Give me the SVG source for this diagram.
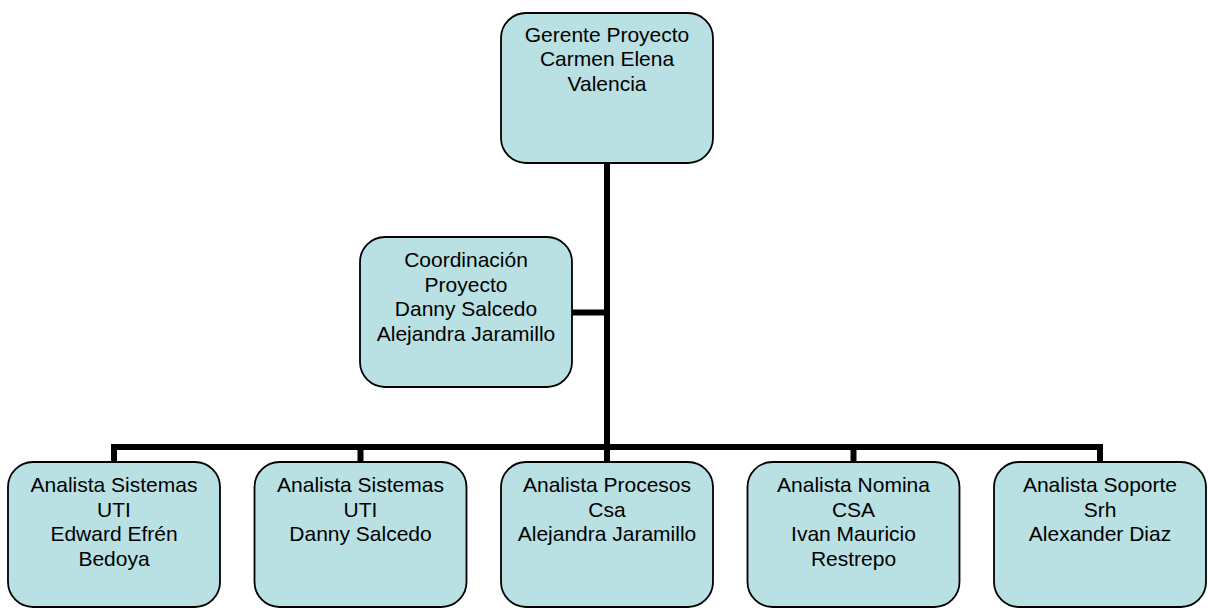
<svg xmlns="http://www.w3.org/2000/svg" width="1208" height="608" viewBox="0 0 1208 608">
  <style>
    .box { fill: #B9E0E3; stroke: #000; stroke-width: 1.8; }
    .lbl { font-family: "Liberation Sans", Arial, sans-serif; font-size: 21px; fill: #000; text-anchor: middle; }
    .wire { fill: none; stroke: #000; stroke-width: 6; stroke-linecap: square; stroke-linejoin: miter; }
  </style>
  <rect width="1208" height="608" fill="#fff"/>

  <!-- org chart lines -->
  <g id="connectors">
    <path class="wire" d="M607,163 V447"/>
    <path class="wire" d="M573,312.5 H607"/>
    <path class="wire" d="M114,461 V447 H1100 V461"/>
    <path class="wire" d="M360.5,447 V461"/>
    <path class="wire" d="M607,447 V461"/>
    <path class="wire" d="M853.5,447 V461"/>
  </g>

  <g id="gerente">
    <rect class="box" x="501" y="13" width="212" height="150" rx="25"/>
    <text class="lbl" x="607" y="41.5">Gerente Proyecto</text>
    <text class="lbl" x="607" y="66">Carmen Elena</text>
    <text class="lbl" x="607" y="90.5">Valencia</text>
  </g>

  <g id="coordinacion">
    <rect class="box" x="360" y="237" width="212" height="150" rx="25"/>
    <text class="lbl" x="466" y="267">Coordinación</text>
    <text class="lbl" x="466" y="291.5">Proyecto</text>
    <text class="lbl" x="466" y="316">Danny Salcedo</text>
    <text class="lbl" x="466" y="340.5">Alejandra Jaramillo</text>
  </g>

  <g id="analista-sistemas-1">
    <rect class="box" x="8" y="462" width="212" height="145" rx="25"/>
    <text class="lbl" x="114" y="492">Analista Sistemas</text>
    <text class="lbl" x="114" y="516.5">UTI</text>
    <text class="lbl" x="114" y="541">Edward Efrén</text>
    <text class="lbl" x="114" y="565.5">Bedoya</text>
  </g>

  <g id="analista-sistemas-2">
    <rect class="box" x="254.5" y="462" width="212" height="145" rx="25"/>
    <text class="lbl" x="360.5" y="492">Analista Sistemas</text>
    <text class="lbl" x="360.5" y="516.5">UTI</text>
    <text class="lbl" x="360.5" y="541">Danny Salcedo</text>
  </g>

  <g id="analista-procesos">
    <rect class="box" x="501" y="462" width="212" height="145" rx="25"/>
    <text class="lbl" x="607" y="492">Analista Procesos</text>
    <text class="lbl" x="607" y="516.5">Csa</text>
    <text class="lbl" x="607" y="541">Alejandra Jaramillo</text>
  </g>

  <g id="analista-nomina">
    <rect class="box" x="747.5" y="462" width="212" height="145" rx="25"/>
    <text class="lbl" x="853.5" y="492">Analista Nomina</text>
    <text class="lbl" x="853.5" y="516.5">CSA</text>
    <text class="lbl" x="853.5" y="541">Ivan Mauricio</text>
    <text class="lbl" x="853.5" y="565.5">Restrepo</text>
  </g>

  <g id="analista-soporte">
    <rect class="box" x="994" y="462" width="212" height="145" rx="25"/>
    <text class="lbl" x="1100" y="492">Analista Soporte</text>
    <text class="lbl" x="1100" y="516.5">Srh</text>
    <text class="lbl" x="1100" y="541">Alexander Diaz</text>
  </g>
</svg>
